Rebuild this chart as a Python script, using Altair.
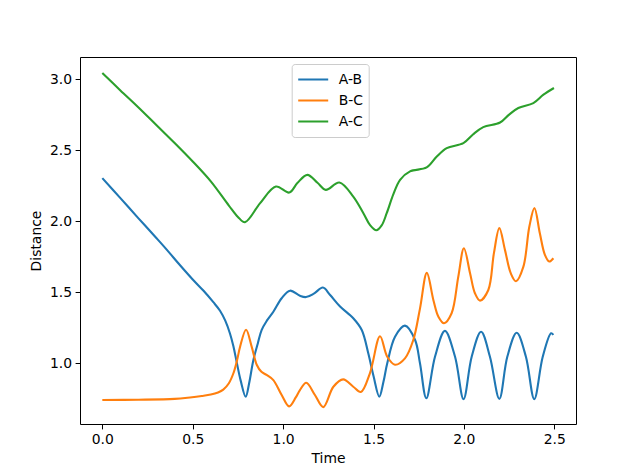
import altair as alt
import pandas as pd

# ---- data ----
t_ab = [0.0, 0.1, 0.2, 0.3, 0.356, 0.43, 0.5, 0.56, 0.614, 0.651, 0.68, 0.706, 0.725,
        0.743, 0.765, 0.793, 0.812, 0.835, 0.86, 0.881, 0.91, 0.946, 0.992, 1.038,
        1.093, 1.127, 1.17, 1.22, 1.26, 1.315, 1.388, 1.435, 1.471, 1.50, 1.532,
        1.555, 1.576, 1.619, 1.674, 1.73, 1.757, 1.792, 1.84, 1.895, 1.951, 1.998,
        2.043, 2.095, 2.144, 2.196, 2.24, 2.292, 2.343, 2.389, 2.436, 2.482, 2.495]
d_ab = [2.303, 2.162, 2.02, 1.88, 1.80, 1.69, 1.59, 1.51, 1.43, 1.37, 1.30, 1.21, 1.12,
        1.01, 0.88, 0.765, 0.86, 1.02, 1.14, 1.234, 1.30, 1.363, 1.458, 1.511,
        1.475, 1.466, 1.49, 1.533, 1.48, 1.399, 1.317, 1.234, 1.07, 0.91, 0.765,
        0.87, 1.0, 1.187, 1.265, 1.164, 1.0, 0.754, 1.046, 1.228, 1.046, 0.748,
        1.046, 1.222, 1.046, 0.75, 1.046, 1.215, 1.046, 0.748, 1.046, 1.211, 1.2]

t_bc = [0.0, 0.2, 0.4, 0.485, 0.55, 0.6, 0.64, 0.669, 0.70, 0.725, 0.745, 0.762, 0.795,
        0.826, 0.854, 0.88, 0.909, 0.946, 0.992, 1.033, 1.07, 1.093, 1.128, 1.176,
        1.222, 1.278, 1.332, 1.388, 1.43, 1.48, 1.536, 1.576, 1.619, 1.674, 1.72,
        1.757, 1.795, 1.831, 1.859, 1.89, 1.932, 1.969, 2.0, 2.034, 2.061, 2.089,
        2.135, 2.166, 2.196, 2.227, 2.259, 2.288, 2.329, 2.362, 2.39, 2.42, 2.448,
        2.472, 2.495]
d_bc = [0.742, 0.744, 0.75, 0.76, 0.77, 0.78, 0.795, 0.815, 0.86, 0.93, 1.02, 1.117, 1.236,
        1.117, 0.99, 0.94, 0.918, 0.882, 0.777, 0.697, 0.76, 0.812, 0.863, 0.777,
        0.692, 0.835, 0.887, 0.835, 0.798, 0.93, 1.19, 1.046, 0.99, 1.035, 1.164,
        1.385, 1.636, 1.446, 1.328, 1.282, 1.352, 1.61, 1.81, 1.634, 1.493, 1.441,
        1.516, 1.775, 1.951, 1.798, 1.634, 1.577, 1.68, 1.962, 2.092, 1.915, 1.763,
        1.716, 1.739]

t_ac = [0.0, 0.1, 0.2, 0.3, 0.4, 0.5, 0.6, 0.7, 0.75, 0.789, 0.873, 0.96, 1.034, 1.08,
        1.134, 1.19, 1.236, 1.311, 1.388, 1.444, 1.48, 1.516, 1.545, 1.573, 1.61,
        1.647, 1.702, 1.794, 1.85, 1.905, 1.997, 2.05, 2.107, 2.2, 2.25, 2.301,
        2.384, 2.44, 2.498]
d_ac = [3.042, 2.92, 2.80, 2.675, 2.55, 2.42, 2.28, 2.11, 2.03, 1.993, 2.127, 2.244, 2.201, 2.27,
        2.326, 2.27, 2.22, 2.272, 2.173, 2.056, 1.974, 1.936, 1.97, 2.056, 2.19,
        2.291, 2.35, 2.378, 2.455, 2.514, 2.549, 2.61, 2.662, 2.694, 2.75, 2.796,
        2.831, 2.89, 2.937]

series_names = ["A-B", "B-C", "A-C"]
series_colors = ["#1f77b4", "#ff7f0e", "#2ca02c"]
x_ticks = [0.0, 0.5, 1.0, 1.5, 2.0, 2.5]
y_ticks = [1.0, 1.5, 2.0, 2.5, 3.0]

frames = []
for name, tt, dd in zip(series_names, [t_ab, t_bc, t_ac], [d_ab, d_bc, d_ac]):
    frames.append(pd.DataFrame({"Time": tt, "Distance": dd, "series": name}))
df = pd.concat(frames, ignore_index=True)

FONT = "DejaVu Sans"
FS = 13.9

chart = alt.Chart(df).mark_line(strokeWidth=2.1, interpolate="catmull-rom").encode(
    x=alt.X("Time:Q",
            scale=alt.Scale(domain=[-0.1235, 2.62], nice=False, zero=False),
            axis=alt.Axis(values=x_ticks, format=".1f", title="Time", grid=False,
                          titlePadding=5)),
    y=alt.Y("Distance:Q",
            scale=alt.Scale(domain=[0.573, 3.155], nice=False, zero=False),
            axis=alt.Axis(values=y_ticks, format=".1f", title="Distance", grid=False,
                          titlePadding=6)),
    color=alt.Color("series:N",
                    scale=alt.Scale(domain=series_names, range=series_colors),
                    legend=alt.Legend(title=None, orient="none", legendX=211.7, legendY=7,
                                      symbolType="stroke", symbolSize=900,
                                      symbolStrokeWidth=2.1, labelFont=FONT,
                                      labelFontSize=FS, labelOffset=9,
                                      fillColor="white", strokeColor="#cccccc",
                                      cornerRadius=3, padding=5, rowPadding=0,
                                      clipHeight=21)),
).properties(
    width=496, height=367,
    autosize=alt.AutoSizeParams(type="none"),
    padding={"left": 72, "top": 49, "right": 56, "bottom": 44},
).configure_view(
    stroke="black", strokeWidth=1
).configure_axis(
    domain=False, ticks=True, tickColor="black", tickSize=4.9, tickWidth=1,
    labelFont=FONT, labelFontSize=FS, labelColor="black", labelPadding=3.5,
    titleFont=FONT, titleFontSize=FS, titleFontWeight="normal", titleColor="black",
)

chart.save("out.html", embed_options={"renderer": "svg", "actions": False})
